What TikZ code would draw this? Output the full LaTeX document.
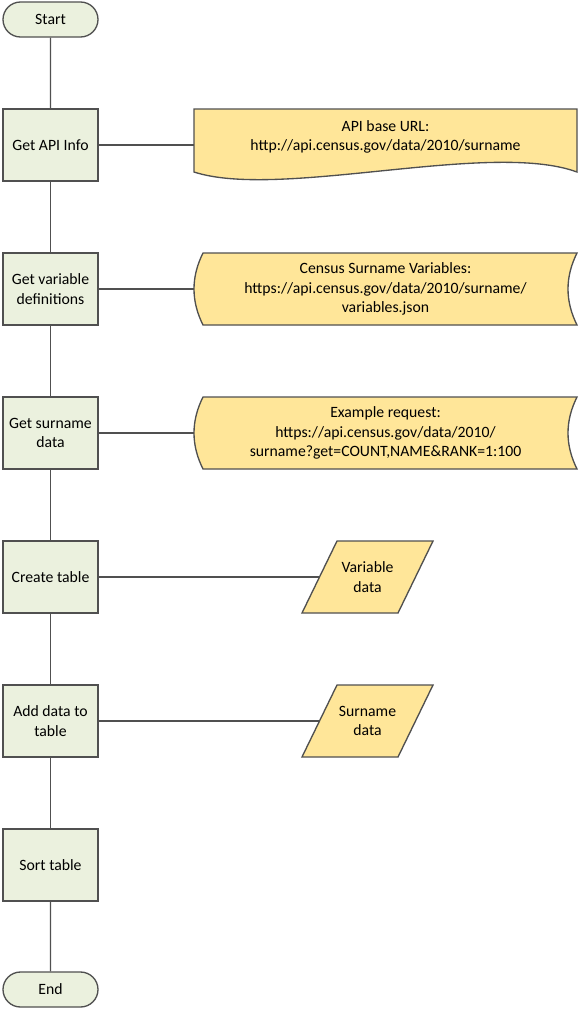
\documentclass[tikz,border=0pt]{standalone}
\usepackage{fontspec}
\setmainfont{Carlito}
\usetikzlibrary{shapes.misc}
\definecolor{procfill}{HTML}{EBF1DE}
\definecolor{datafill}{HTML}{FFE699}
\definecolor{edgecol}{HTML}{505050}
\tikzset{
  lbl/.style={font=\fontsize{11.8}{14.4}\selectfont, align=center, text=black},
  proc/.style={lbl, draw=edgecol, fill=procfill, line width=1pt, inner sep=0pt,
    minimum width=71.25pt, minimum height=54pt},
  term/.style={lbl, rounded rectangle, draw=edgecol, fill=procfill, line width=1pt,
    inner sep=0pt, minimum width=71.25pt, minimum height=26.25pt},
  databox/.style={lbl, draw=none, inner sep=0pt, minimum width=287.25pt, minimum height=54pt},
  iobox/.style={lbl, draw=none, inner sep=0pt, minimum width=72pt, minimum height=54pt},
  shapeline/.style={draw=edgecol, fill=datafill, line width=1pt, line join=miter},
  conn/.style={draw=edgecol, line width=1pt}
}
\begin{document}
\begin{tikzpicture}[x=0.75pt,y=-0.75pt]
\useasboundingbox[fill=white] (0,0) rectangle (580,1010);

% data shapes (drawn directly)
% document
\path[shapeline] (194,109) -- (577,109) -- (577,172)
  .. controls (490,140) and (280,200) .. (194,172) -- cycle;
% stored data 1
\path[shapeline] (203,253) -- (577,253) .. controls (565,277) and (565,301) .. (577,325)
  -- (203,325) .. controls (191,301) and (191,277) .. (203,253) -- cycle;
% stored data 2
\path[shapeline] (203,397) -- (577,397) .. controls (565,421) and (565,445) .. (577,469)
  -- (203,469) .. controls (191,445) and (191,421) .. (203,397) -- cycle;
% parallelograms
\path[shapeline] (337,541) -- (433,541) -- (398,613) -- (302,613) -- cycle;
\path[shapeline] (337,685) -- (433,685) -- (398,757) -- (302,757) -- cycle;

% process column
\node[term] (start) at (50.5,19.5) {Start};
\node[proc] (api) at (50.5,145) {Get API Info};
\node[proc] (var) at (50.5,289) {Get variable\\definitions};
\node[proc] (sur) at (50.5,433) {Get surname\\data};
\node[proc] (ct) at (50.5,577) {Create table};
\node[proc] (add) at (50.5,721) {Add data to\\table};
\node[proc] (sort) at (50.5,865) {Sort table};
\node[term] (end) at (50.5,989.5) {End};

% data nodes (text)
\node[databox] (doc) at (385.5,145) {};
\node[lbl] at (385.5,136.5) {API base URL:\\http://api.census.gov/data/2010/surname};
\node[databox] (sd1) at (385.5,289) {Census Surname Variables:\\https://api.census.gov/data/2010/surname/\\variables.json};
\node[databox] (sd2) at (385.5,433) {Example request:\\https://api.census.gov/data/2010/\\surname?get=COUNT,NAME\&RANK=1:100};
\node[iobox] (vd) at (367.5,577) {Variable\\data};
\node[iobox] (sdat) at (367.5,721) {Surname\\data};

% connectors
\draw[conn] (start) -- (api);
\draw[conn] (api) -- (var);
\draw[conn] (var) -- (sur);
\draw[conn] (sur) -- (ct);
\draw[conn] (ct) -- (add);
\draw[conn] (add) -- (sort);
\draw[conn] (sort) -- (end);
\draw[conn] (api.east) -- (doc.west);
\draw[conn] (var.east) -- (sd1.west);
\draw[conn] (sur.east) -- (sd2.west);
\draw[conn] (ct.east) -- (vd.west);
\draw[conn] (add.east) -- (sdat.west);
\end{tikzpicture}
\end{document}
